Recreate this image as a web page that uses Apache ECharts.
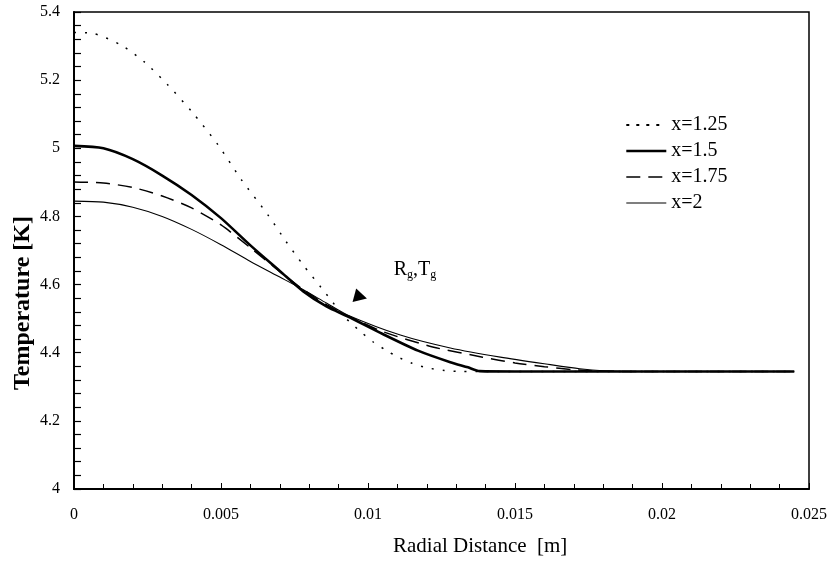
<!DOCTYPE html>
<html>
<head>
<meta charset="utf-8">
<script src="https://cdn.jsdelivr.net/npm/echarts@6/dist/echarts.min.js"></script>
<style>html,body{margin:0;padding:0;background:#fff}#c{width:830px;height:570px}</style>
</head>
<body>
<div id="c"></div>
<script>
// ---- data ----
var seriesNames = ["x=1.25", "x=1.5", "x=1.75", "x=2"];

var r125 = [0, 0.0006, 0.0016, 0.0024, 0.0032, 0.004, 0.0049, 0.0057, 0.0066, 0.0072, 0.0078, 0.0084, 0.0088, 0.0092, 0.0098, 0.0102, 0.0106, 0.011, 0.0115, 0.012, 0.0126, 0.0132, 0.014, 0.02, 0.0245];
var t125 = [5.340, 5.338, 5.303, 5.253, 5.185, 5.108, 5.010, 4.907, 4.804, 4.728, 4.657, 4.592, 4.548, 4.505, 4.458, 4.430, 4.408, 4.388, 4.369, 4.356, 4.348, 4.345, 4.345, 4.345, 4.345];

var r150 = [0, 0.001, 0.002, 0.003, 0.004, 0.005, 0.006, 0.007, 0.0078, 0.0086, 0.0093, 0.0105, 0.0117, 0.0128, 0.0134, 0.0138, 0.015, 0.02, 0.0245];
var t150 = [5.007, 5.000, 4.968, 4.920, 4.863, 4.795, 4.715, 4.640, 4.580, 4.535, 4.507, 4.455, 4.406, 4.372, 4.357, 4.346, 4.345, 4.345, 4.345];

var r175 = [0, 0.001, 0.002, 0.003, 0.004, 0.005, 0.006, 0.007, 0.0078, 0.0086, 0.0093, 0.0105, 0.0122, 0.0139, 0.015, 0.016, 0.017, 0.0177, 0.02, 0.0245];
var t175 = [4.901, 4.898, 4.885, 4.860, 4.825, 4.775, 4.708, 4.638, 4.585, 4.540, 4.509, 4.462, 4.417, 4.387, 4.370, 4.359, 4.350, 4.346, 4.345, 4.345];

var r200 = [0, 0.001, 0.002, 0.003, 0.004, 0.005, 0.006, 0.007, 0.0078, 0.0086, 0.0093, 0.0111, 0.0128, 0.0145, 0.0162, 0.0172, 0.018, 0.019, 0.0245];
var t200 = [4.845, 4.842, 4.827, 4.800, 4.762, 4.717, 4.668, 4.622, 4.585, 4.545, 4.511, 4.452, 4.414, 4.387, 4.365, 4.353, 4.347, 4.345, 4.345];

var yTicks = [4, 4.2, 4.4, 4.6, 4.8, 5, 5.2, 5.4];
var xTicks = [0, 0.005, 0.01, 0.015, 0.02, 0.025];

function pairs(r, t) { return r.map(function (v, i) { return [v, t[i]]; }); }

var FONT = "'Liberation Serif', 'Times New Roman', serif";
var chart = echarts.init(document.getElementById('c'), null, {renderer: 'canvas'});

var styles = [
  {width: 1.5, type: [2, 9]},
  {width: 2.6, type: 'solid'},
  {width: 1.5, type: [14, 8]},
  {width: 1.1, type: 'solid'}
];

function mkSeries(i, r, t) {
  return {
    name: seriesNames[i], type: 'line', data: pairs(r, t), showSymbol: false, symbol: 'none',
    smooth: 0.25,
    lineStyle: {color: '#000', width: styles[i].width, type: styles[i].type},
    itemStyle: {color: '#000'},
    animation: false, z: 3
  };
}

var s1 = mkSeries(0, r125, t125);
var s2 = mkSeries(1, r150, t150);
var s3 = mkSeries(2, r175, t175);
var s4 = mkSeries(3, r200, t200);

s2.markPoint = {
  silent: true, animation: false,
  data: [
    {coord: [0.00975, 4.564], symbol: 'triangle', symbolSize: [14, 13], symbolRotate: -105,
     itemStyle: {color: '#000'}, label: {show: false}},
    {coord: [0.0116, 4.643], symbol: 'rect', symbolSize: 1, itemStyle: {color: 'rgba(0,0,0,0)'},
     label: {show: true, position: 'inside',
       formatter: '{a|R}{s|g}{a|,T}{s|g}',
       rich: {
         a: {fontFamily: FONT, fontSize: 20, color: '#000'},
         s: {fontFamily: FONT, fontSize: 12, color: '#000', verticalAlign: 'bottom', padding: [10, 0, 0, 0]}
       }}}
  ]
};

var option = {
  backgroundColor: '#fff',
  animation: false,
  grid: {left: 74, right: 20, top: 12, bottom: 81, show: true, borderColor: '#000', borderWidth: 1.5, backgroundColor: 'transparent'},
  legend: {
    data: seriesNames.map(function (n, i) {
      return {name: n, lineStyle: {color: '#000', width: i === 0 ? 1.8 : styles[i].width, type: i === 0 ? [3, 7] : styles[i].type}};
    }),
    orient: 'vertical', left: 620, top: 110,
    itemWidth: 40, itemHeight: 14, itemGap: 6,
    itemStyle: {opacity: 0},
    textStyle: {fontFamily: FONT, fontSize: 20, color: '#000'},
    selectedMode: false
  },
  graphic: [
    {type: 'text', left: 393, top: 536, silent: true,
     style: {text: 'Radial Distance  [m]', fontFamily: FONT, fontSize: 21, fill: '#000'}},
    {type: 'text', x: 11, y: 390, rotation: Math.PI / 2, silent: true,
     style: {text: 'Temperature [K]', fontFamily: FONT, fontSize: 24, fontWeight: 'bold', fill: '#000',
             align: 'left', verticalAlign: 'top'}}
  ],
  xAxis: {
    type: 'value', min: 0, max: 0.025, interval: 0.005,
    axisLine: {show: true, onZero: false, lineStyle: {color: '#000', width: 2}},
    axisTick: {show: true, inside: true, length: 6, lineStyle: {color: '#000', width: 1}},
    minorTick: {show: true, splitNumber: 5, length: 5, lineStyle: {color: '#000', width: 1}},
    splitLine: {show: false},
    axisLabel: {fontFamily: FONT, fontSize: 16, color: '#000', margin: 18,
      formatter: function (v) { return String(parseFloat(v.toFixed(4))); }}
  },
  yAxis: {
    type: 'value', min: 4, max: 5.4, interval: 0.2,
    axisLine: {show: true, onZero: false, lineStyle: {color: '#000', width: 2}},
    axisTick: {show: true, inside: true, length: 7, lineStyle: {color: '#000', width: 1.2}},
    minorTick: {show: true, splitNumber: 5, length: 7, lineStyle: {color: '#000', width: 1.2}},
    splitLine: {show: false},
    axisLabel: {fontFamily: FONT, fontSize: 16, color: '#000', margin: 14,
      formatter: function (v) { return String(parseFloat(v.toFixed(2))); }}
  },
  series: [s1, s2, s3, s4]
};
chart.setOption(option);
</script>
</body>
</html>
